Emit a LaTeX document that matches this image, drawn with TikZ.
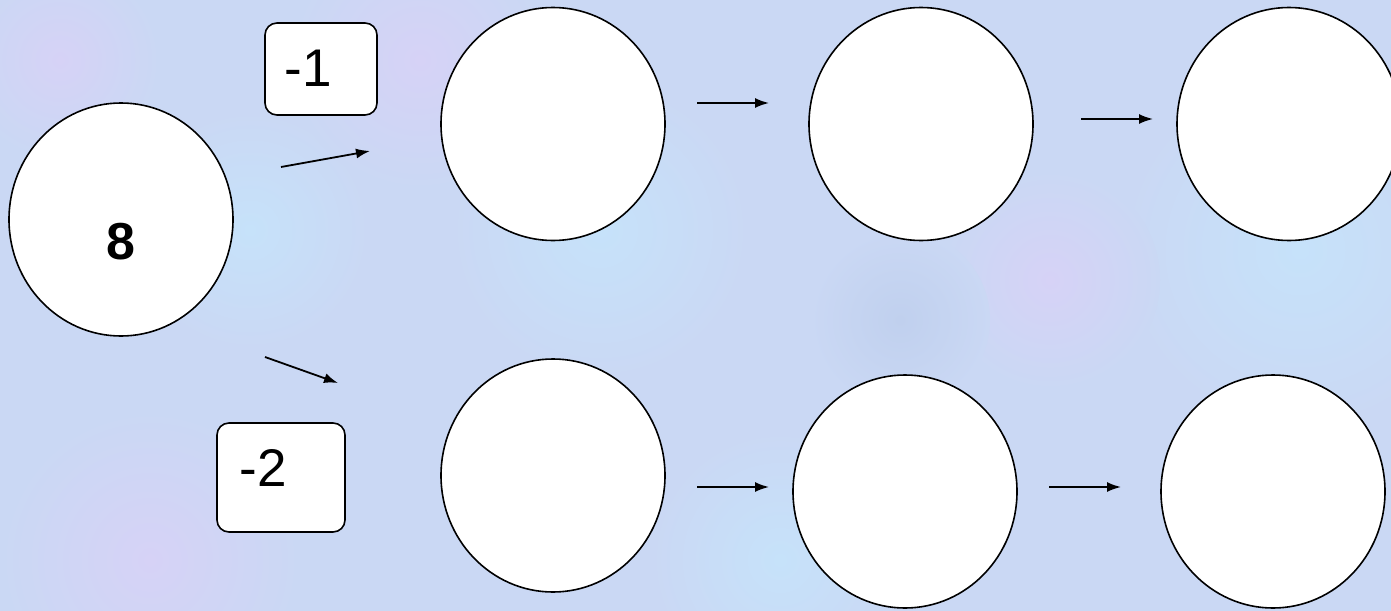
\documentclass[tikz,border=0pt]{standalone}
\usepackage{fontspec}
\setmainfont{Liberation Sans}
\usetikzlibrary{shapes.geometric,arrows.meta}
\definecolor{bgbase}{RGB}{202,216,244}
\definecolor{bgcyan}{RGB}{198,226,250}
\definecolor{bglav}{RGB}{214,210,246}
\definecolor{bgdeep}{RGB}{192,208,238}
\tikzset{
  bubble/.style={ellipse, draw=black, fill=white, line width=1.6pt, minimum width=224pt, minimum height=233pt, inner sep=0pt},
  opbox/.style={draw=black, fill=white, line width=1.6pt, rounded corners=12pt, inner sep=0pt},
  optext/.style={font=\fontsize{53}{60}\selectfont, inner sep=0pt},
  flow/.style={line width=1.8pt, -{Latex[length=14pt,width=10pt]}},
  blob/.style={shading=radial, outer color=bgbase}
}
\begin{document}
\begin{tikzpicture}[x=1pt,y=-1pt]
\useasboundingbox (0,0) rectangle (1391,610);
% background
\fill[bgbase] (-5,-5) rectangle (1396,615);
\begin{scope}
\clip (-5,-5) rectangle (1396,615);
\shade[blob, inner color=bgcyan] (600,230) circle (150);
\shade[blob, inner color=bgcyan] (1300,250) circle (180);
\shade[blob, inner color=bgcyan] (250,230) circle (120);
\shade[blob, inner color=bglav] (420,60) circle (130);
\shade[blob, inner color=bglav] (150,560) circle (150);
\shade[blob, inner color=bglav] (1050,280) circle (110);
\shade[blob, inner color=bgcyan] (780,560) circle (130);
\shade[blob, inner color=bgdeep] (900,320) circle (90);
\shade[blob, inner color=bglav] (60,60) circle (100);
\end{scope}
% circles
\node[bubble] (start) at (121,219.5) {};
\node[font=\bfseries\fontsize{52}{60}\selectfont, inner sep=0pt] (startlbl) at (121,241.5) {8};
\node[bubble] (t1) at (553,124) {};
\node[bubble] (t2) at (921,124) {};
\node[bubble] (t3) at (1289,124) {};
\node[bubble] (u1) at (553,475.5) {};
\node[bubble] (u2) at (905,491.5) {};
\node[bubble] (u3) at (1273,491.5) {};
% operation boxes
\node[opbox, minimum width=112pt, minimum height=92pt] (b1) at (321,69) {};
\node[optext] (b1t) at (308,68) {-1};
\node[opbox, minimum width=128pt, minimum height=109pt] (b2) at (281,477.5) {};
\node[optext] (b2t) at (263,468) {-2};
% arrow end points
\coordinate (a1s) at (281,167);
\coordinate (a1e) at (370,151);
\coordinate (a2s) at (265,357);
\coordinate (a2e) at (338,383);
\coordinate (a3s) at (697,103);
\coordinate (a3e) at (769,103);
\coordinate (a4s) at (1081,119);
\coordinate (a4e) at (1153,119);
\coordinate (a5s) at (697,487);
\coordinate (a5e) at (769,487);
\coordinate (a6s) at (1049,487);
\coordinate (a6e) at (1121,487);
\draw[flow] (a1s) -- (a1e);
\draw[flow] (a2s) -- (a2e);
\draw[flow] (a3s) -- (a3e);
\draw[flow] (a4s) -- (a4e);
\draw[flow] (a5s) -- (a5e);
\draw[flow] (a6s) -- (a6e);
\end{tikzpicture}
\end{document}
